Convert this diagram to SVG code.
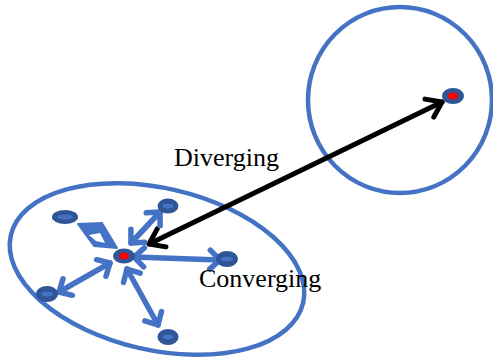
<svg xmlns="http://www.w3.org/2000/svg" width="493" height="360" viewBox="0 0 493 360">
<style>
.ring{fill:none;stroke:#4472C4;stroke-width:4.5}
.node{fill:#2F5597}
.inner{fill:#4472C4}
.core{fill:#FF0000}
.blue{fill:none;stroke:#4472C4;stroke-width:5.5;stroke-linecap:round;marker-start:url(#bh);marker-end:url(#bh)}
.black{fill:none;stroke:#000;stroke-width:5;stroke-linecap:round;marker-start:url(#kh);marker-end:url(#kh)}
.lbl{font-family:"Liberation Serif","Times New Roman",serif;font-size:26px;fill:#000}
</style>
<defs>
<marker id="bh" viewBox="0 0 18 26" refX="15" refY="13" markerWidth="18" markerHeight="26" markerUnits="userSpaceOnUse" orient="auto-start-reverse">
<path d="M5,3.5 L15,13 L5,22.5" fill="none" stroke="#4472C4" stroke-width="5.5" stroke-linecap="round" stroke-linejoin="round"/>
</marker>
<marker id="kh" viewBox="0 0 20 26" refX="17" refY="13" markerWidth="20" markerHeight="26" markerUnits="userSpaceOnUse" orient="auto-start-reverse">
<path d="M3,3 L17,13 L3,23" fill="none" stroke="#000" stroke-width="5" stroke-linecap="round" stroke-linejoin="round"/>
</marker>
</defs>
<g id="right-cluster"><ellipse class="ring" cx="400" cy="100" rx="92" ry="93"/></g>
<g id="left-cluster"><ellipse class="ring" cx="157" cy="269" rx="150" ry="81" transform="rotate(13 157 269)"/></g>
<g id="connectors">
<line class="black" x1="149" y1="244" x2="442" y2="102"/>
<line class="blue" x1="131" y1="243" x2="160" y2="212"/>
<line class="blue" x1="134" y1="257" x2="220" y2="260"/>
<line class="blue" x1="110" y1="263" x2="59" y2="292"/>
<line class="blue" x1="127" y1="269" x2="158" y2="325"/>
<polygon points="78,224 102,223 117,248 94,246" fill="#4472C4" stroke="#4472C4" stroke-width="2" stroke-linejoin="round"/>
<polygon points="89,235 100,233 105,243 96,241" fill="#fff"/>
</g>
<g id="node-right"><ellipse class="node" cx="453" cy="96" rx="11" ry="8"/><ellipse class="core" cx="453" cy="96" rx="5.5" ry="3.5"/></g>
<g id="node-center"><ellipse class="node" cx="124" cy="256" rx="11" ry="7.5"/><ellipse class="core" cx="124" cy="256" rx="5" ry="3.5"/></g>
<g id="node-topleft"><ellipse class="node" cx="65" cy="217" rx="13" ry="7"/><ellipse class="inner" cx="65" cy="217" rx="8" ry="2.5"/></g>
<g id="node-top"><ellipse class="node" cx="168" cy="206" rx="10.5" ry="7.5"/><ellipse class="inner" cx="168" cy="206" rx="5.5" ry="2.5"/></g>
<g id="node-right-small"><ellipse class="node" cx="227" cy="259" rx="11" ry="8"/><ellipse class="inner" cx="227" cy="259" rx="6" ry="2.5"/></g>
<g id="node-left"><ellipse class="node" cx="47" cy="294" rx="11" ry="8"/><ellipse class="inner" cx="47" cy="294" rx="6" ry="2.5"/></g>
<g id="node-bottom"><ellipse class="node" cx="168" cy="337" rx="10.5" ry="8"/><ellipse class="inner" cx="168" cy="337" rx="5.5" ry="2.5"/></g>
<text class="lbl" x="174" y="166">Diverging</text>
<text class="lbl" x="199" y="287">Converging</text>
</svg>
